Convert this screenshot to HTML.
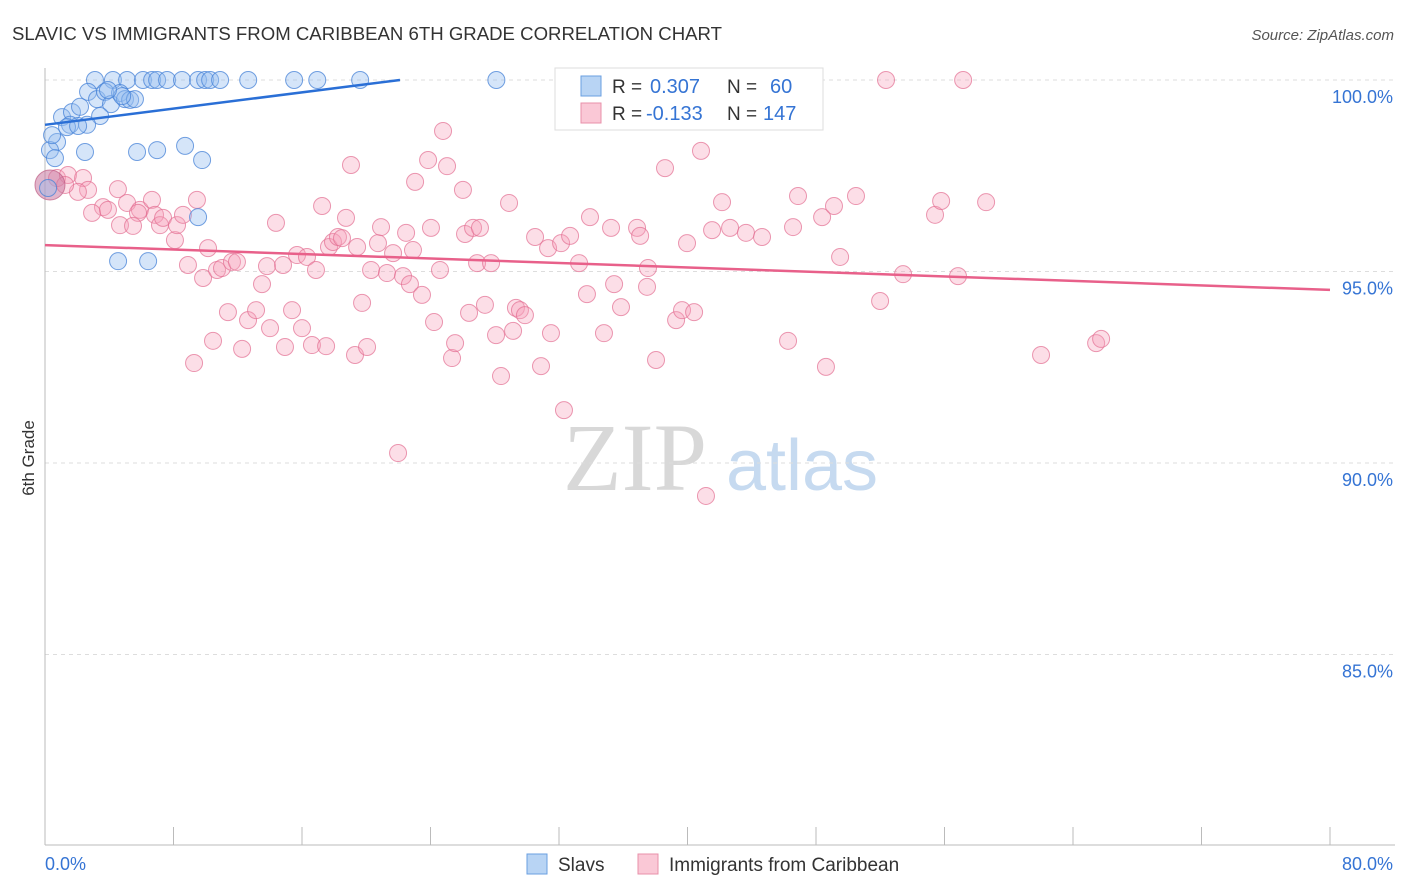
<!DOCTYPE html>
<html><head><meta charset="utf-8">
<style>
body{margin:0;background:#fff;font-family:"Liberation Sans",sans-serif;}
#wrap{position:relative;width:1406px;height:892px;overflow:hidden;}
</style></head>
<body>
<div id="wrap">
<svg id="svg" width="1406" height="892" xmlns="http://www.w3.org/2000/svg">
<text x="12" y="40" font-size="18.6" fill="#333" textLength="710">SLAVIC VS IMMIGRANTS FROM CARIBBEAN 6TH GRADE CORRELATION CHART</text>
<text x="1394" y="40" font-size="15" fill="#555" font-style="italic" text-anchor="end">Source: ZipAtlas.com</text>
<text x="34" y="458" font-size="17" fill="#333" text-anchor="middle" transform="rotate(-90 34 458)">6th Grade</text>
<g>
<text x="635" y="490" font-size="96" font-family="Liberation Serif, serif" fill="#d8d8d8" text-anchor="middle">ZIP</text>
<text x="802" y="490" font-size="72" fill="#c6daf0" text-anchor="middle">atlas</text>
</g>
<g id="grid"></g><g id="axes"></g><g id="pts"></g><g id="lines"></g>
<g>
<rect x="555" y="68" width="268" height="62" fill="#fff" stroke="#ddd"/>
<rect x="581" y="76" width="20" height="20" fill="#b8d4f4" stroke="#6a9fe0"/>
<text x="612" y="93" font-size="19" fill="#333">R = </text><text x="650" y="93" font-size="20" fill="#3574d4">0.307</text>
<text x="727" y="93" font-size="19" fill="#333">N = </text><text x="770" y="93" font-size="20" fill="#3574d4">60</text>
<rect x="581" y="103" width="20" height="20" fill="#fac8d6" stroke="#e890aa"/>
<text x="612" y="120" font-size="19" fill="#333">R = </text><text x="646" y="120" font-size="20" fill="#3574d4">-0.133</text>
<text x="727" y="120" font-size="19" fill="#333">N = </text><text x="763" y="120" font-size="20" fill="#3574d4">147</text>
</g>
<g>
<rect x="527" y="854" width="20" height="20" fill="#b8d4f4" stroke="#6a9fe0"/>
<text x="558" y="871" font-size="19" fill="#333">Slavs</text>
<rect x="638" y="854" width="20" height="20" fill="#fac8d6" stroke="#e890aa"/>
<text x="669" y="871" font-size="19" fill="#333">Immigrants from Caribbean</text>
</g>
</svg>
</div>
<script>
const yTicks=[100,95,90,85];
const yTickLabels=["100.0%","95.0%","90.0%","85.0%"];
const xTicks=[0,8,16,24,32,40,48,56,64,72,80];
const xEndLabels=["0.0%","80.0%"];
const slavX=[3.11,4.23,5.11,6.1,6.67,6.98,7.6,8.53,9.53,9.97,10.28,10.9,12.65,15.51,16.95,19.62,28.1,32.6,1.06,1.68,2.18,2.68,3.24,3.74,4.11,4.67,4.98,5.3,5.6,3.43,2.62,1.56,0.75,0.31,0.62,2.49,5.73,6.98,8.72,9.78,9.53,0.44,0.19,4.55,6.42,1.37,2.06,4.8,3.92];
const slavY=[100,100,100,100,100,100,100,100,100,100,100,100,100,100,100,100,100,100,99.03,99.16,99.3,99.69,99.5,99.69,99.37,99.66,99.5,99.48,99.5,99.06,98.83,98.83,98.38,98.17,97.96,98.12,98.12,98.17,98.28,97.91,96.42,98.56,97.18,95.27,95.27,98.77,98.8,99.58,99.74];
const carX=[0.75,1.43,2.37,2.68,2.05,1.25,4.54,3.61,2.93,3.92,5.11,5.91,6.66,6.85,5.79,4.67,5.48,7.16,7.35,8.09,8.22,8.59,9.46,10.15,8.9,9.84,10.71,11.02,11.64,11.95,9.28,10.46,11.39,12.27,12.64,13.14,14.01,13.51,13.82,14.38,14.82,14.94,15.38,15.69,16.0,16.31,16.62,16.87,17.25,17.5,17.68,17.93,18.24,18.49,18.74,19.05,19.3,19.43,19.74,20.05,20.3,20.73,20.92,21.29,21.67,21.98,22.29,22.48,22.72,22.91,23.04,23.47,23.85,24.03,24.22,24.59,24.78,25.03,25.34,25.53,26.02,26.15,26.4,26.65,26.9,27.08,27.39,27.77,28.08,28.39,28.89,29.14,29.32,29.57,29.88,30.51,30.88,31.32,31.5,32.13,32.31,32.69,33.25,33.74,33.93,34.8,35.24,35.43,35.86,36.86,37.05,37.48,37.54,38.04,38.6,39.29,39.66,39.97,40.41,40.84,41.15,41.53,42.15,42.65,43.64,44.64,46.26,46.57,46.88,48.38,48.62,49.12,49.5,50.49,51.99,52.36,53.42,55.41,55.79,56.84,57.16,58.59,62.01,65.44,65.75];
const carY=[97.44,97.52,97.44,97.13,97.08,97.26,97.15,96.68,96.53,96.61,96.79,96.61,96.87,96.48,96.53,96.21,96.19,96.21,96.4,95.82,96.21,96.48,96.87,95.61,95.17,94.83,95.04,95.09,95.25,95.25,92.61,93.19,93.94,92.98,93.73,93.99,93.52,94.67,95.14,96.27,95.17,93.03,93.99,95.43,93.52,95.38,93.08,95.04,96.71,93.05,95.64,95.77,95.9,95.87,96.4,97.78,92.82,95.64,94.18,93.03,95.04,95.74,96.16,94.96,95.48,90.26,94.88,96.01,94.67,95.56,97.34,94.39,97.91,96.14,93.68,95.04,98.67,97.75,92.74,93.13,97.13,95.98,93.92,96.14,95.22,96.14,94.13,95.22,93.34,92.27,96.79,93.45,94.05,93.99,93.86,95.9,92.53,95.61,93.39,95.74,91.38,95.93,95.22,94.41,96.42,93.39,96.14,94.67,94.07,96.14,95.93,94.6,95.09,92.69,97.7,93.73,93.99,95.74,93.94,98.15,89.14,96.08,96.81,96.14,96.01,95.9,93.19,96.16,96.97,96.42,92.51,96.71,95.38,96.97,94.23,100,94.93,96.48,96.84,94.88,100,96.81,92.82,93.13,93.24];
const bigX=[0.31], bigY=[97.26];
const slavFit=[0,98.83,22.1,100];
const carFit=[0,95.69,80,94.52];

const NS="http://www.w3.org/2000/svg";
const X0=45,X1=1330,YT=80,PX=38.3;
const sx=v=>X0+(v/80)*(X1-X0);
const sy=v=>YT+(100-v)*PX;
function mk(tag,attrs,parent){const e=document.createElementNS(NS,tag);for(const k in attrs)e.setAttribute(k,attrs[k]);parent.appendChild(e);return e;}
const grid=document.getElementById('grid'),axes=document.getElementById('axes'),pts=document.getElementById('pts'),lines=document.getElementById('lines');
yTicks.forEach((t,i)=>{
  const l=mk('line',{x1:X0,x2:1395,y1:sy(t),y2:sy(t),stroke:'#ddd','stroke-dasharray':'4 4'},grid);
  
  
  const tx=mk('text',{x:1393,y:sy(t)+23,'font-size':18,fill:'#3574d4','text-anchor':'end'},axes);
  tx.textContent=yTickLabels[i];
  
  
});
const ya=mk('line',{x1:X0,x2:X0,y1:68,y2:845,stroke:'#bbb'},axes);


const xa=mk('line',{x1:X0,x2:1395,y1:845,y2:845,stroke:'#bbb'},axes);


xTicks.forEach(t=>{
  const l=mk('line',{x1:sx(t),x2:sx(t),y1:827,y2:845,stroke:'#bbb'},axes);
  
  
});
const xl0=mk('text',{x:45,y:870,'font-size':18,fill:'#3574d4'},axes);xl0.textContent=xEndLabels[0];


const xl1=mk('text',{x:1393,y:870,'font-size':18,fill:'#3574d4','text-anchor':'end'},axes);xl1.textContent=xEndLabels[1];


carX.forEach((x,i)=>{
  const c=mk('circle',{cx:sx(x),cy:sy(carY[i]),r:8.5,fill:'rgba(246,160,186,0.35)',stroke:'rgba(226,110,145,0.7)','stroke-width':1},pts);
  
  
});
bigX.forEach((x,i)=>{
  const c=mk('circle',{cx:sx(x),cy:sy(bigY[i]),r:15,fill:'rgba(200,120,160,0.55)',stroke:'rgba(190,90,130,0.7)'},pts);
  
  
});
slavX.forEach((x,i)=>{
  const c=mk('circle',{cx:sx(x),cy:sy(slavY[i]),r:8.5,fill:'rgba(150,190,240,0.4)',stroke:'rgba(70,130,215,0.75)','stroke-width':1},pts);
  
  
});
const bl=mk('line',{x1:sx(slavFit[0]),y1:sy(slavFit[1]),x2:sx(slavFit[2]),y2:sy(slavFit[3]),stroke:'#2a6fd6','stroke-width':2.5},lines);


const pl=mk('line',{x1:sx(carFit[0]),y1:sy(carFit[1]),x2:sx(carFit[2]),y2:sy(carFit[3]),stroke:'#e8608a','stroke-width':2.5},lines);


</script>
</body></html>
